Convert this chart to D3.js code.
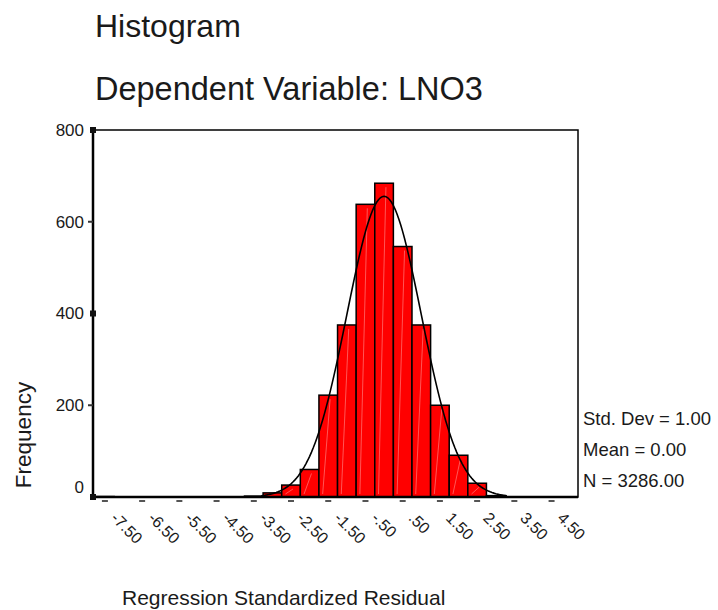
<!DOCTYPE html>
<html>
<head>
<meta charset="utf-8">
<script src="https://cdn.jsdelivr.net/npm/d3@7"></script>
<style>
  body { margin: 0; background: #fff; }
  text { font-family: "Liberation Sans", Arial, sans-serif; fill: #1a1a1a; }
</style>
</head>
<body>
<div id="chart"></div>
<script>
// histogram bins (centres, width 0.5) and frequencies
const binCenters = [-7.5, -3.5, -3.0, -2.5, -2.0, -1.5, -1.0, -0.5, 0, 0.5, 1.0, 1.5, 2.0, 2.5, 3.0];
const counts = [1, 2, 9, 26, 60, 222, 375, 638, 684, 546, 375, 200, 91, 30, 3];
const binWidth = 0.5;

const xTickValues = [-7.5, -6.5, -5.5, -4.5, -3.5, -2.5, -1.5, -0.5, 0.5, 1.5, 2.5, 3.5, 4.5];
const xTickLabels = ["-7.50", "-6.50", "-5.50", "-4.50", "-3.50", "-2.50", "-1.50", "-.50", ".50", "1.50", "2.50", "3.50", "4.50"];
const yTickValues = [0, 200, 400, 600, 800];

const statLabels = ["Std. Dev = 1.00", "Mean = 0.00", "N = 3286.00"];
const stdDev = 1.0, mean = 0.0, nCases = 3286;

document.addEventListener("DOMContentLoaded", function () {
  drawHistogram();
});

function drawHistogram() {
  var svg = d3.select("#chart").append("svg")
    .attr("width", 718)
    .attr("height", 610);

  var left = 93, right = 578, top = 130, bottom = 497;

  var x = d3.scaleLinear().domain([-7.82, 5.21]).range([left, right]);
  var y = d3.scaleLinear().domain([0, 800]).range([bottom, top]);

  // titles
  svg.append("text").attr("x", 95).attr("y", 37)
    .style("font-size", "32px").text("Histogram");
  svg.append("text").attr("x", 95).attr("y", 100)
    .style("font-size", "32.5px").text("Dependent Variable: LNO3");

  // frame
  svg.append("rect")
    .attr("x", left).attr("y", top)
    .attr("width", right - left).attr("height", bottom - top)
    .attr("fill", "none").attr("stroke", "#000").attr("stroke-width", 1.5);

  // bars
  var bars = binCenters.map((c, i) => ({ c: c, n: counts[i] }));
  svg.selectAll("rect.bar")
    .data(bars)
    .enter()
    .append("rect")
    .attr("class", "bar")
    .attr("x", d => x(d.c - binWidth / 2))
    .attr("y", d => y(d.n))
    .attr("width", d => x(d.c + binWidth / 2) - x(d.c - binWidth / 2))
    .attr("height", d => y(0) - y(d.n))
    .attr("fill", "#ff0000")
    .attr("stroke", "#000")
    .attr("stroke-width", 1.5);

  // faint light streaks inside the bars
  svg.selectAll("line.streak")
    .data(bars.filter(d => d.n > 20))
    .enter()
    .append("line")
    .attr("x1", d => x(d.c - binWidth * 0.3))
    .attr("y1", y(0) - 3)
    .attr("x2", d => x(d.c + binWidth * 0.1))
    .attr("y2", d => y(d.n) + 4)
    .attr("stroke", "#ffb0b0")
    .attr("stroke-width", 0.7)
    .attr("opacity", 0.7);

  // normal curve from the stated mean / sd / N
  var curvePts = d3.range(-3.3, 3.3001, 0.05).map(v => [v,
    nCases * binWidth * Math.exp(-0.5 * Math.pow((v - mean) / stdDev, 2)) / (stdDev * Math.sqrt(2 * Math.PI))]);
  svg.append("path")
    .datum(curvePts)
    .attr("d", d3.line().x(d => x(d[0])).y(d => y(d[1])))
    .attr("fill", "none")
    .attr("stroke", "#000")
    .attr("stroke-width", 1.6);

  // left and bottom axis lines
  svg.append("line")
    .attr("x1", left).attr("x2", left).attr("y1", top).attr("y2", bottom)
    .attr("stroke", "#000").attr("stroke-width", 2.5);
  svg.append("line")
    .attr("x1", left).attr("x2", right).attr("y1", bottom).attr("y2", bottom)
    .attr("stroke", "#000").attr("stroke-width", 2.5);

  // y ticks
  yTickValues.forEach(function (v, i) {
    if (i % 2 == 0) {
      svg.append("rect").attr("x", left - 3).attr("y", y(v) - 3)
        .attr("width", 6).attr("height", 6).attr("fill", "#111");
    } else {
      svg.append("line").attr("x1", left - 5).attr("x2", left)
        .attr("y1", y(v)).attr("y2", y(v))
        .attr("stroke", "#333").attr("stroke-width", 2);
    }
    svg.append("text")
      .attr("x", 84)
      .attr("y", v == 0 ? y(v) - 10 : y(v))
      .attr("dy", "0.35em")
      .attr("text-anchor", "end")
      .style("font-size", "17px")
      .text(v);
  });

  // x ticks and rotated labels
  svg.selectAll("line.xtick")
    .data(xTickValues)
    .enter()
    .append("line")
    .attr("x1", d => x(d) - 3).attr("x2", d => x(d) + 3)
    .attr("y1", bottom + 4).attr("y2", bottom + 4)
    .attr("stroke", "#555").attr("stroke-width", 2);

  svg.selectAll("text.xlab")
    .data(xTickValues)
    .enter()
    .append("text")
    .attr("transform", d => "translate(" + (x(d) + 5) + "," + (bottom + 22) + ")rotate(45)")
    .style("font-size", "16px")
    .text((d, i) => xTickLabels[i]);

  // axis titles
  svg.append("text")
    .attr("transform", "translate(31,435)rotate(-90)")
    .attr("text-anchor", "middle")
    .style("font-size", "22.5px")
    .text("Frequency");
  svg.append("text").attr("x", 122).attr("y", 605)
    .style("font-size", "21px").text("Regression Standardized Residual");

  // stats legend
  svg.selectAll("text.stat")
    .data(statLabels)
    .enter()
    .append("text")
    .attr("x", 583)
    .attr("y", (d, i) => 419 + i * 31)
    .attr("dy", "0.35em")
    .style("font-size", "18.5px")
    .text(d => d);
}
</script>
</body>
</html>
